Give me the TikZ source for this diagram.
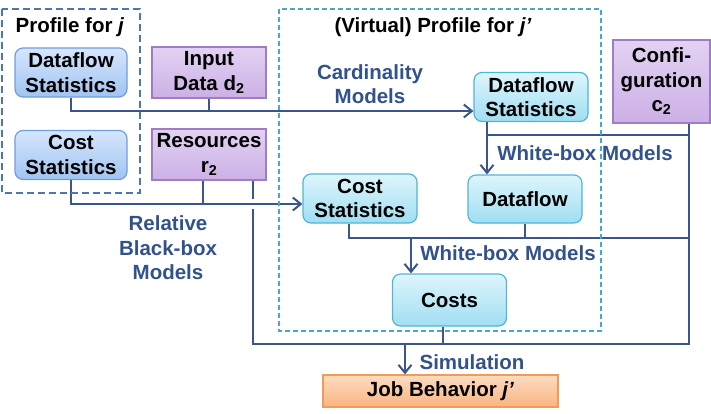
\documentclass[tikz,border=0pt]{standalone}
\usepackage{fontspec}
\setmainfont{Liberation Sans}
\usetikzlibrary{arrows.meta,calc}

\definecolor{wireblue}{RGB}{58,86,140}
\definecolor{lblblue}{RGB}{50,82,140}
\definecolor{leftdash}{RGB}{78,118,178}
\definecolor{rightdash}{RGB}{72,168,198}
\definecolor{statedge}{RGB}{112,158,220}
\definecolor{cyanedge}{RGB}{80,182,214}
\definecolor{purpedge}{RGB}{160,124,197}
\definecolor{orangeedge}{RGB}{243,155,86}

\begin{document}
\begin{tikzpicture}[x=1pt,y=-1pt,
  font=\fontsize{20.5}{24.5}\selectfont\bfseries,
  every node/.style={align=center, inner sep=0pt},
  >={Straight Barb[length=8pt,width=13pt]},
  statL/.style={draw=statedge, line width=1.2pt, rounded corners=8pt,
    top color={rgb,255:red,214;green,230;blue,252}, bottom color={rgb,255:red,160;green,196;blue,242},
    minimum width=112pt, minimum height=49pt},
  statR/.style={draw=cyanedge, line width=1.2pt, rounded corners=8pt,
    top color={rgb,255:red,222;green,245;blue,252}, bottom color={rgb,255:red,160;green,222;blue,242},
    minimum width=114pt, minimum height=49pt},
  inbox/.style={draw=purpedge, line width=1.2pt,
    top color={rgb,255:red,226;green,210;blue,242}, bottom color={rgb,255:red,204;green,176;blue,230},
    minimum width=114pt, minimum height=51pt},
  jobbox/.style={draw=orangeedge, line width=1.2pt,
    top color={rgb,255:red,252;green,220;blue,192}, bottom color={rgb,255:red,249;green,180;blue,130},
    minimum width=235pt, minimum height=32pt},
  lbl/.style={text=lblblue},
  wire/.style={draw=wireblue, line width=2pt},
  lframe/.style={draw=leftdash, line width=2pt, dash pattern=on 7pt off 4pt},
  rframe/.style={draw=rightdash, line width=1.6pt, dash pattern=on 5pt off 3pt}]
\useasboundingbox (0,0) rectangle (711,413);

% profile boxes
\node[statL] (dfL) at (71,72.5) {Dataflow\\Statistics};
\node[statL] (csL) at (71,155) {Cost\\Statistics};
\node[inbox] (inp) at (209,72.5) {Input\\Data d\textsubscript{2}};
\node[inbox] (res) at (209,154.5) {Resources\\r\textsubscript{2}};
\node[statR] (dfR) at (531,97) {Dataflow\\Statistics};
\node[inbox, minimum width=97pt, minimum height=83pt] (conf) at (661.5,81.5) {Confi-\\guration\\c\textsubscript{2}};
\node[statR] (csR) at (360,198.5) {Cost\\Statistics};
\node[statR, minimum height=48pt] (dflow) at (525,199) {Dataflow};
\node[statR, minimum height=52pt] (costs) at (449.5,300) {Costs};
\node[jobbox] (job) at (440.5,391) {Job Behavior \textit{j'}};

% junctions
\coordinate (a1) at ($(dfR.west)+(0,14)$);
\coordinate (b1) at ($(csR.west)+(0,5.5)$);
\coordinate (r1) at ($(res.south)+(-6,0)$);
\coordinate (r2) at ($(res.south)+(44,0)$);
\coordinate (c2) at ($(conf.south)+(27.5,0)$);
\coordinate (e1) at ($(costs.south)+(0,17)$);
\coordinate (k1) at ($(costs.south)+(-6.5,0)$);
\coordinate (j1) at ($(job.north)+(-35.5,0)$);
\coordinate (d1) at ($(dfR.south)+(-44,13)$);
\coordinate (m1) at ($(csR.south)+(-11,14)$);
\coordinate (m2) at ($(costs.north)+(-38.5,0)$);

% cardinality models
\draw[wire,->] (dfL.south) |- (a1);
\draw[wire] (inp.south) -- (inp.south |- a1);
% relative black-box models
\draw[wire] (r2) -- ($(r2 |- b1)+(0,-5)$);
\draw[wire] ($(r2 |- b1)+(0,5)$) |- (c2 |- e1) -- (c2);
\draw[wire,->] (csL.south) |- (b1);
\draw[wire] (r1) -- (r1 |- b1);
% white-box models
\draw[wire] (d1 |- dfR.south) -- (d1) -- (d1 -| c2);
\draw[wire,->] (d1) -- (d1 |- dflow.north);
\draw[wire] (m1 |- csR.south) -- (m1) -- (m1 -| c2);
\draw[wire] (dflow.south) -- (dflow.south |- m1);
\draw[wire,->] (m2 |- m1) -- (m2);
% simulation
\draw[wire] (k1) -- (k1 |- e1);
\draw[wire,->] (j1 |- e1) -- (j1);

% profile frames
\draw[lframe] (2,9) rectangle (140,193);
\draw[rframe] (279,9) rectangle (601,331);
\node (ptitle) at (70,27) {Profile for \textit{j}};
\node (vtitle) at (433,27) {(Virtual) Profile for \textit{j'}};

% model labels
\node[lbl] (cardlbl) at (370,84) {Cardinality\\Models};
\node[lbl] (wbup) at (585,153) {White-box Models};
\node[lbl] (wblow) at (508,253) {White-box Models};
\node[lbl] (rbb) at (168,248) {Relative\\Black-box\\Models};
\node[lbl] (simlbl) at (472,362) {Simulation};
\end{tikzpicture}
\end{document}
